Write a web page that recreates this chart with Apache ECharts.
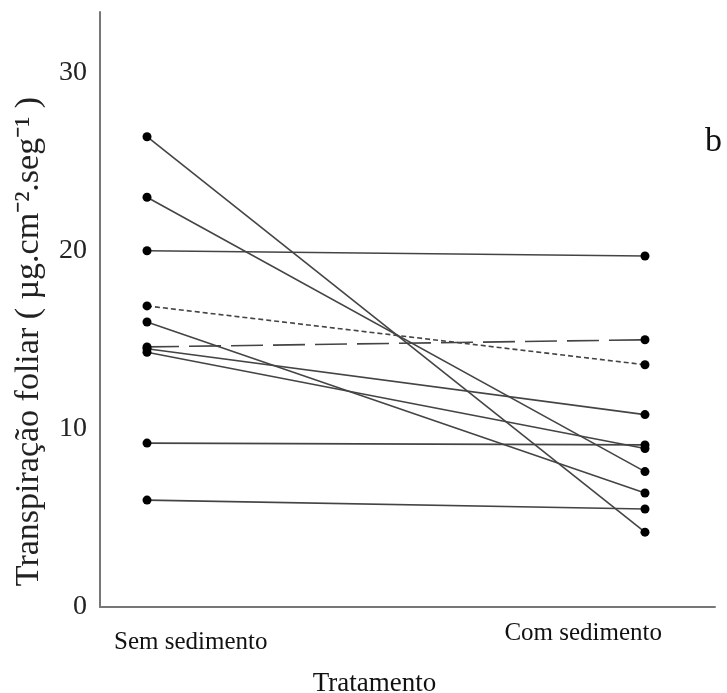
<!DOCTYPE html>
<html>
<head>
    <meta charset="utf-8" />
    <title></title>
    <script src="https://cdn.jsdelivr.net/npm/echarts@6.0.0/dist/echarts.min.js"></script>
    <style>
        * {
            margin: 0;
            padding: 0;
            box-sizing: border-box;
        }

        body {
            background: #fff;
        }

        #chart {
            width: 727px;
            height: 693px;
        }
    </style>
</head>
<body>
    <div id="chart"></div>

    <script>
        // dados
        const treatments = ['Sem sedimento', 'Com sedimento'];
        const semSedimento = [26.4, 23.0, 20.0, 16.9, 16.0, 14.6, 14.5, 14.3, 9.2, 6.0];
        const comSedimento = [4.2, 7.6, 19.7, 13.6, 6.4, 15.0, 10.8, 8.9, 9.1, 5.5];
        const yTicks = [0, 10, 20, 30];

        // estilo de cada linha
        const lineTypes = ['solid', 'solid', 'solid', [5, 3], 'solid', [32, 10], 'solid', 'solid', 'solid', 'solid'];

        const serif = "'Liberation Serif', 'Times New Roman', serif";
        const chart = echarts.init(document.getElementById('chart'));

        const series = semSedimento.map(function (v, i) {
            return {
                type: 'line',
                data: [[0, v], [1, comSedimento[i]]],
                symbol: 'circle',
                symbolSize: 9,
                itemStyle: { color: '#000' },
                lineStyle: { color: '#444', width: 1.6, type: lineTypes[i] },
                emphasis: { disabled: true },
                z: 2
            };
        });

        const option = {
            animation: false,
            title: {
                text: 'b',
                right: 0,
                top: 120,
                textStyle: { fontFamily: serif, fontSize: 34, fontWeight: 'normal', color: '#111' }
            },
            grid: {
                left: 100,
                right: 12,
                top: 12,
                bottom: 86,
                outerBoundsMode: 'none'
            },
            xAxis: {
                type: 'value',
                min: -0.0944,
                max: 1.1406,
                name: 'Tratamento',
                nameLocation: 'middle',
                nameGap: 63,
                nameTextStyle: { fontFamily: serif, fontSize: 27, color: '#111', padding: [0, 66, 0, 0] },
                axisLine: { show: true, onZero: false, lineStyle: { color: '#777', width: 2 } },
                axisTick: { show: false },
                splitLine: { show: false },
                axisLabel: {
                    customValues: [0.088, 0.876],
                    margin: 14,
                    formatter: function (v) {
                        return v < 0.5 ? '{s|' + treatments[0] + '}' : '{c|' + treatments[1] + '}';
                    },
                    rich: {
                        s: { fontFamily: serif, fontSize: 25, color: '#111', padding: [9, 0, 0, 0] },
                        c: { fontFamily: serif, fontSize: 25, color: '#111' }
                    }
                }
            },
            yAxis: {
                type: 'value',
                min: 0,
                max: 33.4,
                interval: 10,
                name: 'Transpiração foliar ( µg.cm⁻².seg⁻¹ )',
                nameLocation: 'middle',
                nameGap: 54,
                nameTextStyle: { fontFamily: serif, fontSize: 34, color: '#222', padding: [0, 64, 0, 0] },
                axisLine: { show: true, onZero: false, lineStyle: { color: '#777', width: 2 } },
                axisTick: { show: false },
                splitLine: { show: false },
                axisLabel: {
                    showMaxLabel: false,
                    margin: 13,
                    fontFamily: serif,
                    fontSize: 28,
                    color: '#222',
                    formatter: function (v) {
                        return yTicks.indexOf(v) >= 0 ? String(v) : '';
                    }
                }
            },
            series: series
        };

        chart.setOption(option);
    </script>
</body>
</html>
